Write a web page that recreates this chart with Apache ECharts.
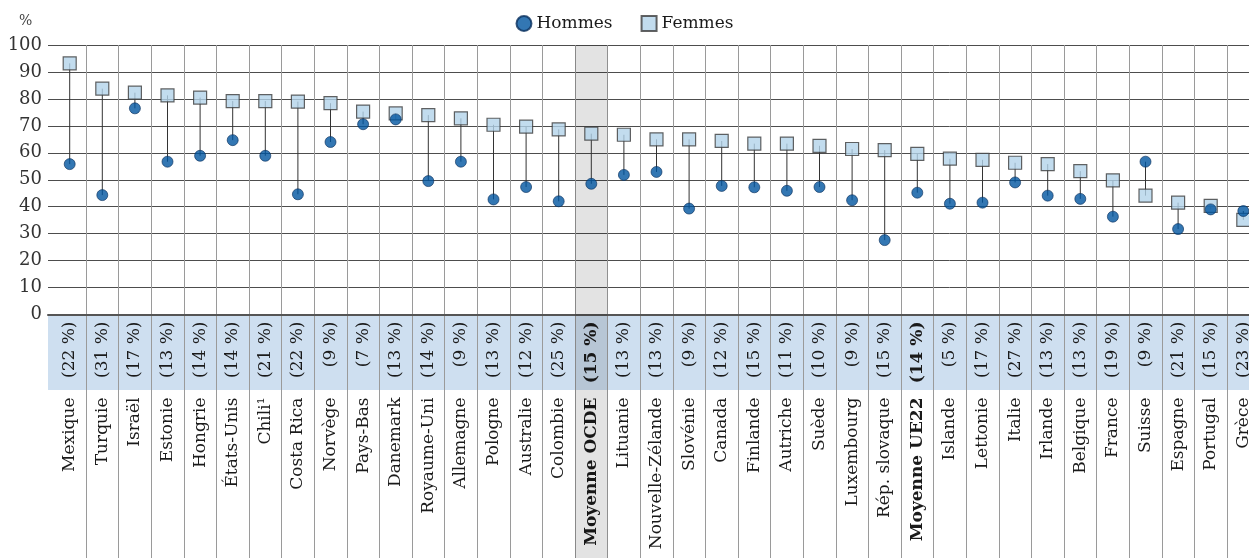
<!DOCTYPE html>
<html>
<head>
<meta charset="utf-8">
<script src="https://cdn.jsdelivr.net/npm/echarts@6/dist/echarts.min.js"></script>
<style>html,body{margin:0;padding:0;background:#fff;}#c{width:1249px;height:558px;}</style>
</head>
<body>
<div id="c"></div>
<script>
const categories = ['Mexique','Turquie','Israël','Estonie','Hongrie','États-Unis','Chili¹','Costa Rica','Norvège','Pays-Bas','Danemark','Royaume-Uni','Allemagne','Pologne','Australie','Colombie','Moyenne OCDE','Lituanie','Nouvelle-Zélande','Slovénie','Canada','Finlande','Autriche','Suède','Luxembourg','Rép. slovaque','Moyenne UE22','Islande','Lettonie','Italie','Irlande','Belgique','France','Suisse','Espagne','Portugal','Grèce'];
const femmes = [93.2,83.8,82.3,81.3,80.5,79.2,79.2,79.0,78.4,75.3,74.6,74.0,72.8,70.4,69.7,68.7,67.1,66.7,65.0,65.0,64.4,63.4,63.4,62.6,61.4,61.0,59.6,57.8,57.4,56.3,55.8,53.2,49.8,44.1,41.5,40.3,35.1];
const hommes = [55.8,44.3,76.5,56.7,58.9,64.7,58.9,44.6,64.0,70.6,72.4,49.5,56.7,42.7,47.3,42.0,48.5,51.8,52.9,39.3,47.7,47.2,45.9,47.3,42.4,27.6,45.2,41.1,41.5,49.0,44.1,42.9,36.3,56.7,31.7,39.0,38.4];
const shares = [22,31,17,13,14,14,21,22,9,7,13,14,9,13,12,25,15,13,13,9,12,15,11,10,9,15,14,5,17,27,13,13,19,9,21,15,23];
const boldCats = ['Moyenne OCDE','Moyenne UE22'];
const highlightCat = 'Moyenne OCDE';

const FONT = 'DejaVu Serif';
const chart = echarts.init(document.getElementById('c'), null, {renderer:'canvas'});

const upBar = categories.map(c => c === highlightCat ? 100 : '-');
const downBar = categories.map(c => c === highlightCat ? -95 : '-');
const dumbbell = categories.map((c,i) => [i, hommes[i], femmes[i]]);

// grid B spans y from 45 to 570.5; the zero line is at 314.5
const AXIS_SHIFT = -256;

const option = {
  animation: false,
  backgroundColor: '#fff',
  title: {text: '%', left: 14, top: 9, textStyle: {fontFamily: FONT, fontSize: 14, fontWeight: 'normal', color: '#444'}},
  legend: {
    top: 10, left: 'center', itemGap: 28, itemWidth: 15, itemHeight: 15,
    textStyle: {fontFamily: FONT, fontSize: 17, color: '#1a1a1a'},
    data: [{name: 'Hommes', icon: 'circle'}, {name: 'Femmes', icon: 'rect'}]
  },
  grid: [
    {left: 48, top: 45, width: 1212, height: 269.5, outerBoundsMode: 'none', containLabel: false},
    {left: 53.4, top: 45, width: 1206.2, height: 525.5, outerBoundsMode: 'none', containLabel: false},
    {left: 48, top: 315, width: 1212, height: 75, show: true, backgroundColor: '#cedff0', borderWidth: 0, z: -1, outerBoundsMode: 'none', containLabel: false}
  ],
  xAxis: [
    {gridIndex: 0, type: 'value', min: 0, max: 1, axisLabel: {show: false}, axisTick: {show: false}, splitLine: {show: false},
     axisLine: {show: true, lineStyle: {color: '#555', width: 2}}},
    {gridIndex: 1, type: 'category', data: categories, position: 'bottom', offset: AXIS_SHIFT,
     axisLine: {show: false, onZero: false}, axisTick: {show: false},
     splitLine: {show: true, interval: 0, showMinLine: false, lineStyle: {color: '#9a9a9a', width: 1}},
     axisLabel: {interval: 0, rotate: 90, margin: 7, fontFamily: FONT, fontSize: 17, color: '#1a1a1a',
       formatter: (v, i) => boldCats.includes(v) ? '{b|(' + shares[i] + ' %)}' : '(' + shares[i] + ' %)',
       rich: {b: {fontFamily: FONT, fontSize: 17, fontWeight: 'bold', color: '#1a1a1a'}}}},
    {gridIndex: 1, type: 'category', data: categories, position: 'bottom', offset: AXIS_SHIFT,
     axisLine: {show: false, onZero: false}, axisTick: {show: false}, splitLine: {show: false},
     axisLabel: {interval: 0, rotate: 90, margin: 83, fontFamily: FONT, fontSize: 17, color: '#1a1a1a',
       formatter: v => boldCats.includes(v) ? '{b|' + v + '}' : v,
       rich: {b: {fontFamily: FONT, fontSize: 17, fontWeight: 'bold', color: '#1a1a1a'}}}},
    {gridIndex: 2, type: 'value', show: false}
  ],
  yAxis: [
    {gridIndex: 0, type: 'value', min: 0, max: 100, interval: 10,
     axisLine: {show: false}, axisTick: {show: false},
     axisLabel: {margin: 6, fontFamily: FONT, fontSize: 18, color: '#333'},
     splitLine: {show: true, lineStyle: {color: '#4d4d4d', width: 1}}},
    {gridIndex: 1, type: 'value', min: -95, max: 100, show: false, splitLine: {show: false}},
    {gridIndex: 2, type: 'value', show: false}
  ],
  series: [
    {type: 'bar', xAxisIndex: 1, yAxisIndex: 1, data: upBar, barWidth: '100%', barGap: '-100%', z: 1,
     itemStyle: {color: 'rgba(0,0,0,0.11)'}, silent: true},
    {type: 'bar', xAxisIndex: 1, yAxisIndex: 1, data: downBar, barWidth: '100%', barGap: '-100%', z: 1,
     itemStyle: {color: 'rgba(0,0,0,0.11)'}, silent: true},
    {type: 'custom', xAxisIndex: 1, yAxisIndex: 1, data: dumbbell, z: 3,
     encode: {x: 0, y: [1, 2]},
     renderItem: (params, api) => {
       const x = api.value(0);
       const p1 = api.coord([x, api.value(1)]);
       const p2 = api.coord([x, api.value(2)]);
       return {type: 'line', shape: {x1: p1[0], y1: p1[1], x2: p2[0], y2: p2[1]}, style: {stroke: '#333', lineWidth: 1}};
     }},
    {name: 'Femmes', type: 'scatter', xAxisIndex: 1, yAxisIndex: 1, data: femmes, symbol: 'rect', symbolSize: 13, z: 4,
     itemStyle: {color: '#b3d3ea', borderColor: '#3c3c3c', borderWidth: 1.2}},
    {name: 'Hommes', type: 'scatter', xAxisIndex: 1, yAxisIndex: 1, data: hommes, symbol: 'circle', symbolSize: 11, z: 5,
     itemStyle: {color: '#0055a0', borderColor: '#0a2f5c', borderWidth: 0.8}}
  ]
};
chart.setOption(option);
</script>
</body>
</html>
